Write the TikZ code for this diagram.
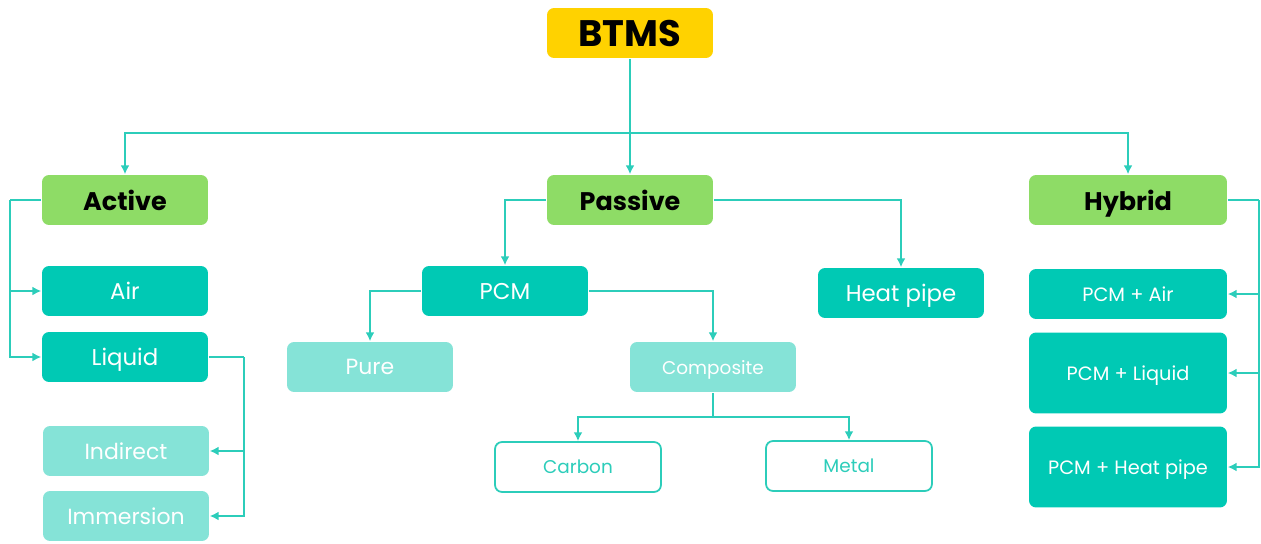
\documentclass[tikz,border=0pt]{standalone}
\usepackage{fontspec}
\setmainfont{Poppins}
\usetikzlibrary{arrows.meta}

\definecolor{rootyellow}{HTML}{FFD200}
\definecolor{groupgreen}{HTML}{8EDC66}
\definecolor{darkteal}{HTML}{00C9B4}
\definecolor{lightteal}{HTML}{85E3D7}
\definecolor{lineteal}{HTML}{2CCDBA}

\begin{document}
\begin{tikzpicture}[x=0.02cm,y=-0.02cm,->,>={Latex[length=5pt,width=5pt]},
                    line width=0.9pt,draw=lineteal,
  box/.style={rectangle,rounded corners=4pt,minimum width=3.32cm,
              minimum height=1cm,inner sep=0pt,align=center,
              text depth=0pt},
  rootbox/.style={box,fill=rootyellow,font=\fontsize{21}{24}\selectfont\bfseries},
  groupbox/.style={box,fill=groupgreen,font=\fontsize{14.5}{17}\selectfont\bfseries},
  darkbox/.style={box,fill=darkteal,text=white,font=\fontsize{13}{15}\selectfont},
  lightbox/.style={box,fill=lightteal,text=white,font=\fontsize{12.5}{15}\selectfont},
  openbox/.style={box,draw=lineteal,line width=1pt,fill=white,text=lineteal,
                  font=\fontsize{10.5}{12}\selectfont},
  hybox/.style={darkbox,minimum width=3.96cm,font=\fontsize{11}{13}\selectfont}]

  \useasboundingbox (0,0) rectangle (1261,544);

  \node[rootbox]  (BTMS)      at (630,33)   {BTMS};

  \node[groupbox] (Active)    at (125,200)  {Active};
  \node[groupbox] (Passive)   at (630,200)  {Passive};
  \node[groupbox, minimum width=3.96cm] (Hybrid) at (1128,200) {Hybrid};

  \node[darkbox]  (Air)       at (125,291)  {Air};
  \node[darkbox]  (Liquid)    at (125,357)  {Liquid};
  \node[lightbox] (Indirect)  at (126,451)  {Indirect};
  \node[lightbox] (Immersion) at (126,516)  {Immersion};

  \node[darkbox]  (PCM)       at (505,291)  {PCM};
  \node[darkbox]  (HeatPipe)  at (901,293)  {Heat pipe};
  \node[lightbox] (Pure)      at (370,367)  {Pure};
  \node[lightbox, font=\fontsize{10.5}{12}\selectfont] (Composite) at (713,367) {Composite};
  \node[openbox]  (Carbon)    at (578,467)  {Carbon};
  \node[openbox]  (Metal)     at (849,466)  {Metal};

  \node[hybox]                        (PCMAir)    at (1128,294) {PCM + Air};
  \node[hybox, minimum height=1.62cm] (PCMLiquid) at (1128,373) {PCM + Liquid};
  \node[hybox, minimum height=1.62cm] (PCMHeat)   at (1128,467) {PCM + Heat pipe};

  % branch points
  \coordinate (btmsbus) at (630,133);
  \coordinate (actbus)  at (10,200);
  \coordinate (liqbus)  at (244,357);
  \coordinate (compbus) at (713,417);
  \coordinate (hybus)   at (1259,200);

  \path (BTMS)      edge                  (Passive);
  \draw (btmsbus) -| (Active);
  \draw (btmsbus) -| (Hybrid);

  \draw[-] (Active.west) -- (actbus);
  \draw (actbus) |- (Air.west);
  \draw (actbus) |- (Liquid.west);

  \draw[-] (Liquid.east) -- (liqbus);
  \draw (liqbus) |- (Indirect.east);
  \draw (liqbus) |- (Immersion.east);

  \draw (Passive.west) -| (PCM);
  \draw (Passive.east) -| (HeatPipe);
  \draw (PCM.west) -| (Pure);
  \draw (PCM.east) -| (Composite);

  \draw[-] (Composite) -- (compbus);
  \draw (compbus) -| (Carbon);
  \draw (compbus) -| (Metal);

  \draw[-] (Hybrid.east) -- (hybus);
  \draw (hybus) |- (PCMAir.east);
  \draw (hybus) |- (PCMLiquid.east);
  \draw (hybus) |- (PCMHeat.east);
\end{tikzpicture}
\end{document}
